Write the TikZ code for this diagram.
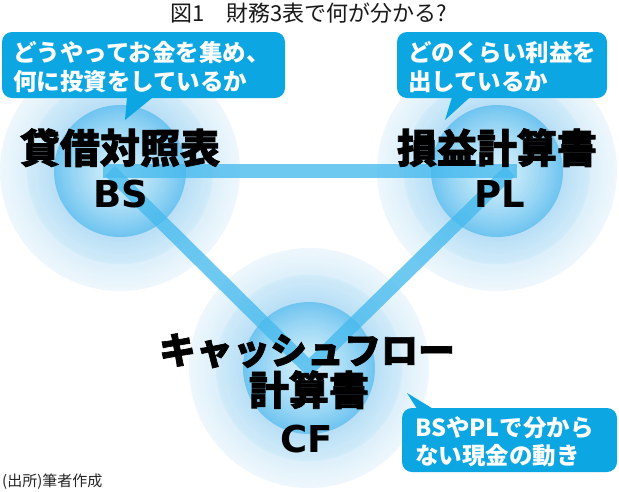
\documentclass[tikz,border=0pt]{standalone}
\usepackage{fontspec}
\newfontfamily\jp{Noto Sans CJK JP}
\newfontfamily\jph{Noto Sans CJK JP}[FakeBold=1.8]
\newfontfamily\lath{DejaVu Sans}
\usetikzlibrary{calc}
\definecolor{bubblec}{RGB}{12,166,226}
\definecolor{linec}{RGB}{70,186,238}
\definecolor{outA}{RGB}{220,239,250}
\definecolor{outB}{RGB}{238,247,253}
\definecolor{midA}{RGB}{184,223,246}
\definecolor{midB}{RGB}{208,235,249}
\definecolor{inA}{RGB}{212,239,251}
\definecolor{inB}{RGB}{112,197,240}
\newcommand\glowrings[1]{%
  \foreach \r in {120,118,...,94}{%
    \pgfmathsetmacro\pp{100*(120-\r)/27}%
    \fill[outA!\pp!outB] (#1) circle[radius=\r pt];}
  \foreach \r in {93,91,...,67}{%
    \pgfmathsetmacro\pp{100*(93-\r)/27}%
    \fill[midA!\pp!midB] (#1) circle[radius=\r pt];}
  \foreach \r in {66,64,...,2}{%
    \pgfmathsetmacro\pp{100*(1-(\r/66)^1.4)}%
    \fill[inA!\pp!inB] (#1) circle[radius=\r pt];}
}
\tikzset{
  link/.style={draw=linec, line width=14pt, opacity=0.78, line join=miter},
  bubble/.style={fill=bubblec, draw=none, rounded corners=10pt, inner sep=0pt},
  btext/.style={text=white, inner sep=0pt, anchor=base west, font=\jp\bfseries\fontsize{23.5}{23.5}\selectfont},
  head/.style={text=black, inner sep=0pt, anchor=base, font=\jph\bfseries\fontsize{40}{40}\selectfont},
  headl/.style={text=black, inner sep=0pt, anchor=base, font=\lath\bfseries\fontsize{37}{37}\selectfont},
}
\begin{document}
\begin{tikzpicture}[x=1pt,y=-1pt]
\useasboundingbox[fill=white] (0,0) rectangle (619,491);
% circle centres
\coordinate (bs) at (120,171);
\coordinate (pl) at (497,171);
\coordinate (cf) at (309,368);
\glowrings{bs}
\glowrings{pl}
\glowrings{cf}
% connector anchors
\coordinate (bsC) at (110,171);
\coordinate (plC) at (510,171);
\coordinate (cfC) at (309,368);
\draw[link, shorten <=-7pt, shorten >=-7pt] (bsC) -- (plC);
\draw[link] (bsC) -- (cfC) -- (plC);
% bubbles
\node[bubble, minimum width=283pt, minimum height=66pt] (bsB) at (143.5,65) {};
\fill[bubblec] ($(bsB.south)+(-16.5,-1)$) -- (125,120) -- ($(bsB.south)+(9.5,-1)$) -- cycle;
\node[bubble, minimum width=210pt, minimum height=66pt] (plB) at (502,65) {};
\fill[bubblec] ($(plB.south)+(-50,-1)$) -- (445,120) -- ($(plB.south)+(-32,-1)$) -- cycle;
\node[bubble, minimum width=215pt, minimum height=64pt] (cfB) at (509.5,440) {};
\fill[bubblec] ($(cfB.north)+(-92.5,1)$) -- (407,393) -- ($(cfB.north)+(-76.5,1)$) -- cycle;
% bubble texts
\node[btext] (bsT1) at (13,61) {どうやってお金を集め、};
\node[btext] (bsT2) at (13,90) {何に投資をしているか};
\node[btext] (plT1) at (408,61) {どのくらい利益を};
\node[btext] (plT2) at (408,90) {出しているか};
\node[btext] (cfT1) at (415,436) {BSやPLで分から};
\node[btext] (cfT2) at (415,464) {ない現金の動き};
% headings
\node[head] (bsH1) at (120,163) {貸借対照表};
\node[headl] (bsH2) at (121,207) {BS};
\node[head] (plH1) at (497,163) {損益計算書};
\node[headl] (plH2) at (500,207) {PL};
\node[head, font=\jph\bfseries\fontsize{37}{37}\selectfont] (cfH1) at (307,364) {キャッシュフロー};
\node[head] (cfH2) at (309,405) {計算書};
\node[headl] (cfH3) at (307,452) {CF};
% title and source
\node[inner sep=0pt, anchor=base, text=black!90, font=\jp\fontsize{22}{22}\selectfont] (title) at (309,21) {図1　財務3表で何が分かる?};
\node[inner sep=0pt, anchor=base west, text=black!85, font=\jp\fontsize{15}{15}\selectfont] (src) at (2,486) {(出所)筆者作成};
\end{tikzpicture}
\end{document}
